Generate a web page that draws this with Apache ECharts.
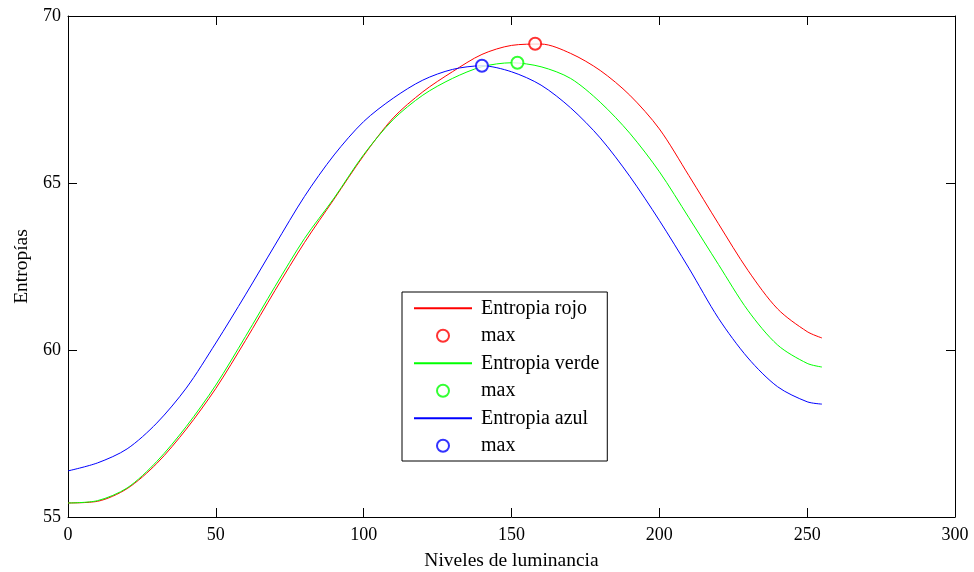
<!DOCTYPE html>
<html>
<head>
<meta charset="utf-8">
<script src="https://cdn.jsdelivr.net/npm/echarts@6/dist/echarts.min.js"></script>
<style>
  html, body { margin: 0; padding: 0; background: #fff; }
  #grafico { width: 974px; height: 572px; }
</style>
</head>
<body>
<div id="grafico"></div>
<script>
// Niveles de luminancia (eje x)
const niveles = [0, 10, 20, 30, 40, 50, 60, 70, 80, 90, 100, 110, 120, 130, 140, 150, 160, 170, 180, 190, 200, 210, 220, 230, 240, 250, 255];

// Entropias por canal
const entropiaRojo = [55.42, 55.47, 55.85, 56.60, 57.63, 58.85, 60.28, 61.78, 63.22, 64.52, 65.82, 66.95, 67.73, 68.33, 68.85, 69.12, 69.16, 68.88, 68.37, 67.63, 66.62, 65.22, 63.78, 62.38, 61.23, 60.55, 60.36];
const entropiaVerde = [55.42, 55.49, 55.87, 56.66, 57.71, 58.95, 60.40, 61.90, 63.34, 64.55, 65.85, 66.90, 67.63, 68.13, 68.48, 68.60, 68.48, 68.13, 67.42, 66.49, 65.34, 63.96, 62.56, 61.18, 60.15, 59.60, 59.49];
const entropiaAzul = [56.38, 56.62, 57.04, 57.81, 58.86, 60.21, 61.65, 63.14, 64.60, 65.84, 66.84, 67.54, 68.08, 68.40, 68.51, 68.33, 67.93, 67.25, 66.35, 65.20, 63.88, 62.45, 60.95, 59.76, 58.90, 58.45, 58.38];

// Maximos [nivel, entropia]
const maxRojo = [158, 69.17];
const maxVerde = [152, 68.60];
const maxAzul = [140, 68.51];

const fuente = 'Liberation Serif';

function pares(xs, ys) {
    return xs.map((x, i) => [x, ys[i]]);
}

function serieLinea(nombre, valores, color) {
    return {
        name: nombre,
        type: 'line',
        data: pares(niveles, valores),
        symbol: 'none',
        showSymbol: false,
        smooth: 0.3,
        lineStyle: { color: color, width: 1 },
        itemStyle: { color: color },
        z: 3
    };
}

function serieMax(nombre, punto, color) {
    return {
        name: nombre,
        type: 'scatter',
        data: [punto],
        symbol: 'emptyCircle',
        symbolSize: 12,
        itemStyle: { color: color, borderColor: color, borderWidth: 1 },
        z: 4
    };
}

function ejeX(posicion, conEtiquetas) {
    return {
        type: 'value',
        position: posicion,
        min: 0,
        max: 300,
        interval: 50,
        name: conEtiquetas ? 'Niveles de luminancia' : '',
        nameLocation: 'middle',
        nameGap: 34,
        nameTextStyle: { fontFamily: fuente, fontSize: 19.5, color: '#000' },
        axisLine: { show: true, onZero: false, lineStyle: { color: '#000', width: 1 } },
        axisTick: { show: true, inside: true, length: 9, lineStyle: { color: '#000' } },
        axisLabel: { show: conEtiquetas, margin: 9, fontFamily: fuente, fontSize: 18, color: '#000' },
        splitLine: { show: false }
    };
}

function ejeY(posicion, conEtiquetas) {
    return {
        type: 'value',
        position: posicion,
        min: 55,
        max: 70,
        interval: 5,
        name: conEtiquetas ? 'Entropías' : '',
        nameLocation: 'middle',
        nameGap: 36,
        nameRotate: 90,
        nameTextStyle: { fontFamily: fuente, fontSize: 19.5, color: '#000' },
        axisLine: { show: true, onZero: false, lineStyle: { color: '#000', width: 1 } },
        axisTick: { show: true, inside: true, length: 9, lineStyle: { color: '#000' } },
        axisLabel: { show: conEtiquetas, margin: 7, fontFamily: fuente, fontSize: 18, color: '#000' },
        splitLine: { show: false }
    };
}

// solo la linea en la leyenda, sin punto
const sinPunto = { opacity: 0 };

const grafico = echarts.init(document.getElementById('grafico'));
grafico.setOption({
    animation: false,
    backgroundColor: '#fff',
    grid: { left: 68, right: 19, top: 16, bottom: 55, containLabel: false, outerBoundsMode: 'none' },
    xAxis: [ejeX('bottom', true), ejeX('top', false)],
    yAxis: [ejeY('left', true), ejeY('right', false)],
    legend: {
        orient: 'vertical',
        left: 402,
        top: 292,
        padding: [6, 8, 5, 11],
        itemGap: 7,
        itemWidth: 58,
        itemHeight: 12,
        borderColor: '#000',
        borderWidth: 1,
        backgroundColor: '#fff',
        textStyle: { fontFamily: fuente, fontSize: 20, color: '#000', lineHeight: 20.5, padding: [0, 0, 0, 4] },
        formatter: nombre => nombre.indexOf('max') === 0 ? 'max' : nombre,
        data: [
            { name: 'Entropia rojo', itemStyle: sinPunto },
            'max1',
            { name: 'Entropia verde', itemStyle: sinPunto },
            'max2',
            { name: 'Entropia azul', itemStyle: sinPunto },
            'max3'
        ]
    },
    series: [
        serieLinea('Entropia rojo', entropiaRojo, '#ff0000'),
        serieMax('max1', maxRojo, '#ff0000'),
        serieLinea('Entropia verde', entropiaVerde, '#00ff00'),
        serieMax('max2', maxVerde, '#00ff00'),
        serieLinea('Entropia azul', entropiaAzul, '#0000ff'),
        serieMax('max3', maxAzul, '#0000ff')
    ]
});
</script>
</body>
</html>
